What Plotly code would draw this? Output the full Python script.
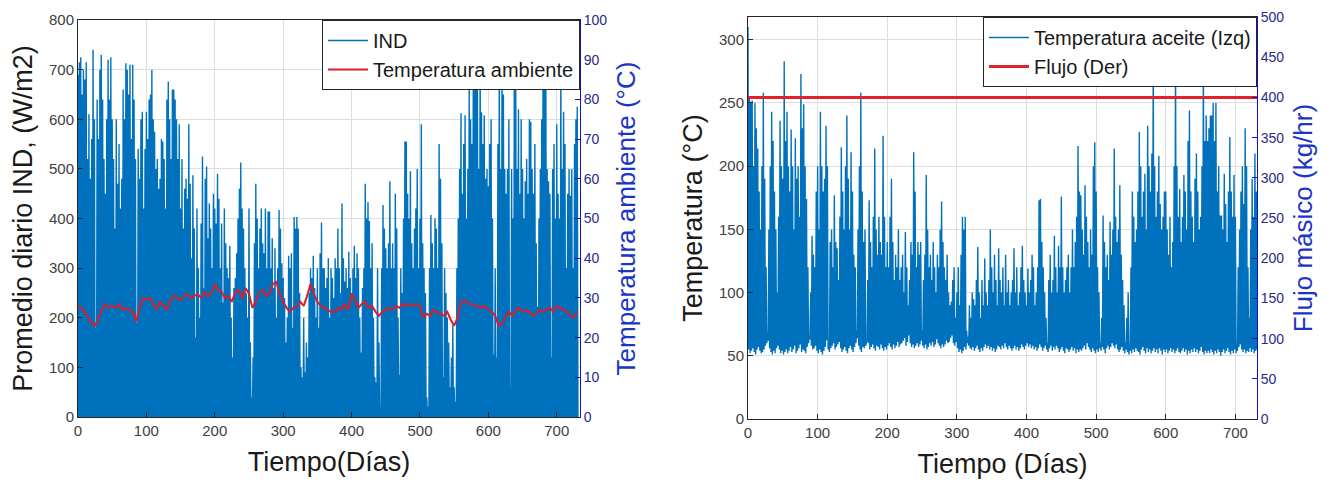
import plotly.graph_objects as go

FONT = "Liberation Sans, Arial, Helvetica, sans-serif"
BLUE = "#0072BD"
RED_T = "#d81e2c"
RED_F = "#e0222c"
AX = "#262626"
RAX = "#1414b4"
RTICK = "#2a2a8a"
RTITLE = "#1a35c8"
GRID = "#dedede"

# ---------------- data: left chart ----------------
# daily peak of IND (W/m2), one value every 2 days (day 0, 2, 4, ...); nights are 0
ind_peaks = [
    690, 715, 725, 650, 700, 680, 715, 520, 610, 480,
    560, 740, 600, 180, 640, 560, 700, 730, 640, 520,
    450, 600, 720, 640, 725, 600, 520, 380, 600, 470,
    550, 420, 480, 660, 600, 713, 700, 650, 710, 560,
    710, 640, 520, 190, 540, 480, 600, 615, 420, 540,
    615, 560, 640, 650, 700, 600, 575, 500, 520, 460,
    480, 560, 555, 520, 420, 640, 676, 600, 520, 660,
    660, 640, 600, 520, 590, 420, 520, 380, 460, 480,
    440, 590, 470, 320, 487, 380, 160, 420, 300, 200,
    390, 525, 260, 480, 505, 360, 430, 380, 300, 450,
    420, 390, 490, 440, 300, 390, 230, 420, 350, 300,
    280, 345, 200, 120, 260, 280, 330, 400, 460, 513,
    420, 380, 300, 250, 200, 420, 150, 40, 120, 350,
    470, 400, 300, 380, 420, 350, 330, 420, 300, 414,
    414, 300, 360, 260, 340, 200, 300, 417, 380, 310,
    280, 240, 150, 200, 325, 300, 330, 180, 403, 380,
    403, 380, 250, 100, 80, 200, 90, 150, 120, 250,
    300, 280, 325, 260, 200, 300, 180, 330, 392, 300,
    300, 260, 280, 320, 200, 300, 280, 240, 320, 300,
    380, 300, 250, 430, 320, 273, 300, 260, 333, 280,
    250, 300, 345, 280, 330, 300, 200, 130, 260, 300,
    470, 400, 433, 395, 300, 350, 200, 80, 70, 300,
    150, 20, 300, 427, 380, 340, 300, 350, 475, 300,
    350, 300, 450, 380, 200, 85, 300, 250, 400, 555,
    555, 450, 400, 495, 350, 300, 380, 420, 500, 300,
    400, 590, 350, 300, 250, 40, 20, 300, 407, 350,
    300, 400, 380, 300, 550, 480, 350, 80, 300, 250,
    200, 150, 60, 120, 185, 60, 30, 300, 400, 500,
    612, 450, 550, 608, 400, 500, 670, 600, 550, 720,
    720, 700, 720, 500, 740, 614, 550, 608, 480, 500,
    465, 550, 600, 400, 126, 300, 120, 550, 720, 500,
    720, 650, 500, 450, 500, 600, 60, 500, 400, 720,
    720, 500, 620, 450, 600, 500, 400, 475, 520, 450,
    600, 595, 500, 450, 550, 350, 222, 400, 500, 600,
    720, 720, 740, 500, 475, 450, 120, 500, 550, 400,
    590, 450, 400, 720, 500, 615, 550, 300, 450, 500,
    446, 500, 300, 550, 600, 625,
]
ind_night = 0

# ambient temperature (deg C), one value every 5 days
temp_step = 5
temp_amb = [
    28, 27.5, 26.5, 25, 23.5, 23, 25, 27, 28.5, 27.5,
    28, 27.5, 28.5, 27, 27.5, 27, 26.5, 24, 27.5, 30,
    29.5, 30, 28.5, 27, 29, 28, 27, 29.5, 30.5, 30,
    29.5, 30.5, 31, 30, 30.5, 31, 30, 31.5, 30.5, 31,
    33.5, 32, 31.5, 30, 30.5, 29, 31.5, 32, 30, 32.5,
    31, 27.5, 29, 31.5, 32, 30.5, 31, 33.5, 34, 31,
    29, 27.5, 26.5, 27.5, 28, 29, 28, 30.5, 33.5, 31,
    29, 28, 27.5, 27, 26.5, 26.5, 27.5, 27, 28.5, 27,
    31, 29.5, 27.5, 28.5, 29, 27.5, 28, 26.5, 25.5, 26.5,
    27, 27.5, 27, 28, 27.5, 28.5, 28, 28.5, 28, 28.5,
    28, 25, 26, 25.5, 27, 26.5, 26, 25.5, 26.5, 24.5,
    23, 25, 29, 29.5, 28.5, 28.5, 28, 28, 27.5, 28,
    27, 26.5, 25.5, 23, 23.5, 25, 26.5, 25.5, 27, 27.5,
    26.5, 27, 26.5, 25.5, 26, 27, 26.5, 27, 27.5, 26.5,
    28, 27.5, 27, 26.5, 25.5, 25, 26.5,
]

# ---------------- data: right chart ----------------
# oil temperature (deg C): daily max and night min, one pair every 2 days
oil_peaks = [
    310, 255, 250, 252, 200, 250, 230, 214, 180, 150,
    200, 258, 190, 120, 69, 150, 200, 243, 220, 180,
    150, 100, 160, 236, 200, 190, 283, 220, 243, 200,
    180, 229, 200, 150, 222, 190, 200, 160, 273, 230,
    249, 200, 174, 120, 66, 100, 145, 130, 120, 180,
    200, 150, 243, 200, 180, 190, 232, 200, 60, 140,
    150, 120, 177, 140, 135, 110, 160, 215, 180, 150,
    200, 240, 190, 150, 211, 180, 130, 120, 70, 150,
    200, 258, 180, 140, 150, 60, 110, 173, 140, 120,
    160, 214, 150, 130, 160, 140, 130, 224, 160, 120,
    140, 120, 160, 190, 140, 110, 130, 120, 150, 110,
    120, 130, 100, 148, 120, 90, 110, 140, 130, 211,
    180, 120, 140, 130, 140, 70, 110, 130, 193, 150,
    120, 130, 110, 140, 120, 100, 130, 120, 150, 172,
    140, 120, 110, 130, 100, 90, 93, 110, 120, 80,
    100, 120, 90, 130, 160, 150, 160, 70, 65, 90,
    80, 100, 95, 90, 110, 136, 100, 80, 110, 90,
    127, 100, 90, 110, 150, 120, 100, 130, 110, 90,
    135, 110, 100, 120, 90, 130, 100, 110, 90, 100,
    110, 135, 100, 120, 90, 100, 120, 137, 110, 100,
    90, 119, 100, 110, 130, 120, 90, 100, 120, 173,
    174, 140, 120, 100, 80, 60, 110, 130, 100, 110,
    145, 120, 100, 137, 120, 176, 120, 100, 110, 120,
    130, 100, 120, 150, 120, 140, 160, 216, 180, 177,
    150, 130, 185, 160, 140, 120, 150, 130, 200, 219,
    180, 120, 100, 60, 80, 161, 140, 120, 130, 110,
    156, 130, 150, 214, 160, 140, 150, 185, 130, 110,
    90, 60, 80, 100, 60, 120, 180, 160, 140, 150,
    180, 227, 200, 160, 180, 194, 150, 232, 200, 180,
    210, 290, 200, 160, 180, 208, 170, 150, 160, 180,
    180, 150, 130, 160, 120, 140, 200, 290, 200, 160,
    182, 140, 160, 193, 180, 150, 220, 244, 180, 160,
    140, 190, 210, 180, 150, 160, 200, 290, 220, 240,
    220, 230, 240, 240, 250, 220, 250, 180, 200, 161,
    161, 150, 194, 170, 140, 180, 223, 180, 160, 193,
    160, 60, 120, 150, 180, 200, 170, 230, 200, 120,
    80, 150, 190, 160, 210, 180,
]
oil_mins = [
    55, 52, 54, 56, 53, 51, 55, 57, 54, 52,
    53, 55, 58, 60, 62, 56, 53, 51, 54, 52,
    56, 58, 55, 52, 54, 51, 53, 55, 52, 54,
    57, 53, 55, 58, 52, 54, 56, 59, 53, 55,
    54, 52, 57, 60, 63, 58, 55, 56, 58, 54,
    52, 55, 53, 51, 54, 57, 62, 55, 53, 56,
    58, 60, 55, 57, 59, 61, 56, 53, 55, 57,
    54, 52, 56, 58, 55, 53, 57, 60, 64, 58,
    55, 53, 57, 56, 58, 62, 60, 55, 57, 59,
    56, 54, 58, 57, 55, 59, 56, 54, 57, 55,
    58, 60, 57, 55, 59, 56, 58, 61, 57, 59,
    60, 62, 64, 58, 61, 66, 60, 57, 59, 56,
    58, 60, 57, 59, 62, 58, 56, 59, 55, 57,
    60, 58, 61, 57, 59, 63, 60, 58, 56, 59,
    57, 59, 62, 60, 61, 64, 66, 60, 58, 61,
    56, 53, 55, 52, 54, 57, 55, 60, 58, 56,
    55, 57, 54, 56, 58, 55, 53, 56, 54, 57,
    59, 56, 58, 55, 57, 54, 56, 53, 55, 58,
    57, 55, 58, 56, 60, 57, 55, 58, 56, 54,
    56, 58, 55, 57, 54, 56, 59, 57, 55, 58,
    60, 57, 59, 56, 58, 55, 57, 54, 56, 59,
    57, 54, 56, 58, 55, 53, 56, 58, 54, 57,
    55, 58, 56, 53, 55, 57, 54, 52, 56, 55,
    53, 55, 57, 54, 56, 52, 55, 53, 55, 54,
    56, 58, 55, 60, 57, 55, 53, 56, 54, 52,
    55, 53, 56, 54, 57, 55, 52, 56, 58, 55,
    57, 60, 58, 56, 59, 55, 53, 55, 57, 54,
    52, 55, 53, 51, 54, 52, 55, 53, 56, 54,
    53, 51, 55, 57, 54, 52, 56, 53, 55, 52,
    54, 56, 53, 55, 52, 56, 54, 51, 55, 53,
    55, 52, 54, 56, 53, 55, 52, 54, 56, 53,
    52, 54, 56, 53, 55, 51, 54, 52, 55, 53,
    56, 53, 55, 52, 54, 57, 53, 51, 54, 52,
    54, 52, 55, 53, 51, 54, 52, 55, 53, 50,
    53, 55, 52, 54, 56, 53, 51, 54, 52, 55,
    52, 54, 57, 59, 55, 53, 55, 52, 54, 53,
    56, 53, 55, 52, 54, 55,
]
flujo_days = [0, 731]
flujo = [400, 400]

x_ticks = [0, 100, 200, 300, 400, 500, 600, 700]
ind_ticks = [0, 100, 200, 300, 400, 500, 600, 700, 800]
tamb_ticks = [0, 10, 20, 30, 40, 50, 60, 70, 80, 90, 100]
oil_ticks = [0, 50, 100, 150, 200, 250, 300]
flujo_ticks = [0, 50, 100, 150, 200, 250, 300, 350, 400, 450, 500]

# ---- build day/night sequences from the read values ----
ind_x, ind_y = [], []
for i, p in enumerate(ind_peaks):
    ind_x += [2 * i, 2 * i + 1]
    ind_y += [p, ind_night]
temp_days = [i * temp_step for i in range(len(temp_amb))]
oil_x, oil_y = [], []
for i, (p, m) in enumerate(zip(oil_peaks, oil_mins)):
    oil_x += [2 * i, 2 * i + 1]
    oil_y += [p, m]

fig = go.Figure()
fig.add_trace(go.Scatter(x=ind_x, y=ind_y, mode="lines", name="IND",
                         line=dict(color=BLUE, width=1.4, simplify=False),
                         xaxis="x", yaxis="y", legend="legend"))
fig.add_trace(go.Scatter(x=temp_days, y=temp_amb, mode="lines",
                         name="Temperatura ambiente",
                         line=dict(color=RED_T, width=2, simplify=False),
                         xaxis="x", yaxis="y2", legend="legend"))
fig.add_trace(go.Scatter(x=oil_x, y=oil_y, mode="lines",
                         name="Temperatura aceite (Izq)",
                         line=dict(color=BLUE, width=1.4, simplify=False),
                         xaxis="x2", yaxis="y3", legend="legend2"))
fig.add_trace(go.Scatter(x=flujo_days, y=flujo, mode="lines", name="Flujo (Der)",
                         line=dict(color=RED_F, width=3), xaxis="x2", yaxis="y4",
                         legend="legend2"))

tickfont = dict(family=FONT, size=15, color="#404040")
rtickfont = dict(family=FONT, size=14, color=RTICK)
title_font = dict(family=FONT, size=27, color="#1a1a1a")
rtitle_font = dict(family=FONT, size=26, color=RTITLE)

common_x = dict(tickvals=x_ticks, ticks="inside", ticklen=5, tickcolor=AX,
                showline=True, linecolor=AX, linewidth=1, mirror=True,
                showgrid=True, gridcolor=GRID, gridwidth=1, zeroline=False,
                automargin=False,
                tickfont=tickfont, title_font=title_font, title_standoff=14)
common_yl = dict(ticks="inside", ticklen=5, tickcolor=AX, showline=True,
                 linecolor=AX, linewidth=1, showgrid=True, gridcolor=GRID,
                 zeroline=False, automargin=False, tickfont=tickfont,
                 title_font=title_font, title_standoff=8)
common_yr = dict(side="right", ticks="inside", ticklen=5, tickcolor=RAX,
                 showline=True, linecolor=RAX, linewidth=1, showgrid=False,
                 zeroline=False, automargin=False, tickfont=rtickfont,
                 title_font=rtitle_font, title_standoff=10)

L, R, T, B = 78, 78, 17, 63
W, H = 1335, 482
pw, ph = W - L - R, H - T - B
left_x1 = (580 - L) / pw
right_x0 = (748 - L) / pw
left_y0 = (H - B - 417) / ph
left_y1 = (H - B - 20) / ph

fig.update_layout(
    width=W, height=H, margin=dict(l=L, r=R, t=T, b=B, autoexpand=False),
    paper_bgcolor="white", plot_bgcolor="white",
    font=dict(family=FONT, color=AX),
    xaxis=dict(domain=[0, left_x1], range=[0, 734], anchor="y",
               title_text="Tiempo(Días)", **common_x),
    yaxis=dict(domain=[left_y0, left_y1], range=[0, 800], anchor="x",
               tickvals=ind_ticks, title_text="Promedio diario IND, (W/m2)",
               **common_yl),
    yaxis2=dict(overlaying="y", anchor="x", range=[0, 100], tickvals=tamb_ticks,
                title_text="Temperatura ambiente (°C)", **common_yr),
    xaxis2=dict(domain=[right_x0, 1], range=[0, 731], anchor="y3",
                title_text="Tiempo (Días)", **common_x),
    yaxis3=dict(domain=[0, 1], range=[0, 318], anchor="x2", tickvals=oil_ticks,
                title_text="Temperatura (°C)", **common_yl),
    yaxis4=dict(overlaying="y3", anchor="x2", range=[0, 500], tickvals=flujo_ticks,
                title_text="Flujo másico (kg/hr)", **common_yr),
    legend=dict(x=left_x1, y=left_y1, xanchor="right", yanchor="top",
                bgcolor="white", bordercolor=AX, borderwidth=1,
                font=dict(family=FONT, size=20, color="#1a1a1a"),
                tracegroupgap=0, itemwidth=40),
    legend2=dict(x=1, y=1, xanchor="right", yanchor="top",
                 bgcolor="white", bordercolor=AX, borderwidth=1,
                 font=dict(family=FONT, size=20, color="#1a1a1a"),
                 tracegroupgap=0, itemwidth=40),
)

fig.write_html("out.html",
               config={"displayModeBar": False},
               post_script="document.body.style.margin='0';"
                           "document.body.style.overflow='hidden';")
